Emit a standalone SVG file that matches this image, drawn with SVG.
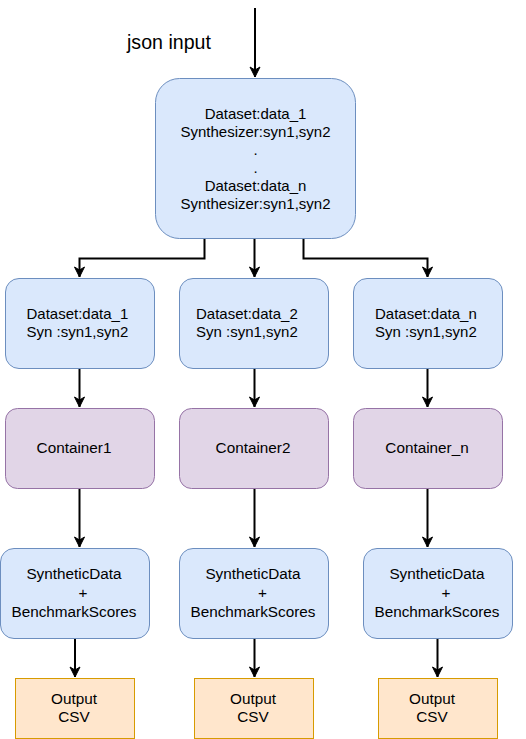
<svg xmlns="http://www.w3.org/2000/svg" width="526" height="739" viewBox="0 0 526 739">
<defs>
<style>
text{font-family:"Liberation Sans",Arial,Helvetica,sans-serif;font-size:15px;fill:#000}
.blue{fill:#dae8fc;stroke:#6c8ebf;stroke-width:1}
.purple{fill:#e1d5e7;stroke:#9673a6;stroke-width:1}
.orange{fill:#ffe6cc;stroke:#d79b00;stroke-width:1}
.edge{fill:none;stroke:#000;stroke-width:2;marker-end:url(#arr)}
.m{text-anchor:middle}
.big{font-size:15.3px}
</style>
<marker id="arr" markerUnits="userSpaceOnUse" markerWidth="12" markerHeight="12" refX="11" refY="6" orient="auto">
<path d="M1,1 L11,6 L1,11 L4,6 z" fill="#000" stroke="#000" stroke-width="1"/>
</marker>
</defs>
<rect width="526" height="739" fill="#fff"/>
<g id="label-json">
<text x="127" y="49" style="font-size:19.6px">json input</text>
</g>
<g id="edges">
<path class="edge" d="M255,8 V77"/>
<path class="edge" d="M204.5,238 V258.5 H79.5 V277"/>
<path class="edge" d="M254.5,238 V277"/>
<path class="edge" d="M303.5,238 V258.5 H427.5 V277"/>
<path class="edge" d="M79.5,368 V407"/>
<path class="edge" d="M254.5,368 V407"/>
<path class="edge" d="M427.5,368 V407"/>
<path class="edge" d="M79.5,488 V547"/>
<path class="edge" d="M254.5,488 V547"/>
<path class="edge" d="M427.5,488 V547"/>
<path class="edge" d="M75,638 V677"/>
<path class="edge" d="M254.5,638 V677"/>
<path class="edge" d="M437.5,638 V677"/>
</g>
<g id="node-input">
<rect class="blue" x="155.5" y="78.5" width="200" height="160" rx="24" ry="24"/>
<text class="m" x="255.5" y="119">Dataset:data_1</text>
<text class="m" x="255.5" y="137">Synthesizer:syn1,syn2</text>
<text class="m" x="255.5" y="155">.</text>
<text class="m" x="255.5" y="173">.</text>
<text class="m" x="255.5" y="191">Dataset:data_n</text>
<text class="m" x="255.5" y="209">Synthesizer:syn1,syn2</text>
</g>
<g id="node-ds1">
<rect class="blue" x="5.5" y="278.5" width="149" height="90" rx="13.5" ry="13.5"/>
<text x="26.5" y="318.5">Dataset:data_1</text>
<text x="26.5" y="337">Syn :syn1,syn2</text>
</g>
<g id="node-ds2">
<rect class="blue" x="179.5" y="278.5" width="149" height="90" rx="13.5" ry="13.5"/>
<text x="196" y="318.5">Dataset:data_2</text>
<text x="196" y="337">Syn :syn1,syn2</text>
</g>
<g id="node-dsn">
<rect class="blue" x="353.5" y="278.5" width="149" height="90" rx="13.5" ry="13.5"/>
<text x="375" y="318.5">Dataset:data_n</text>
<text x="375" y="337">Syn :syn1,syn2</text>
</g>
<g id="node-c1">
<rect class="purple" x="5.5" y="408.5" width="149" height="80" rx="12" ry="12"/>
<text class="m big" x="74" y="452.5">Container1</text>
</g>
<g id="node-c2">
<rect class="purple" x="179.5" y="408.5" width="149" height="80" rx="12" ry="12"/>
<text class="m big" x="253" y="452.5">Container2</text>
</g>
<g id="node-cn">
<rect class="purple" x="353.5" y="408.5" width="149" height="80" rx="12" ry="12"/>
<text class="m big" x="427" y="452.5">Container_n</text>
</g>
<g id="node-s1">
<rect class="blue" x="0.5" y="548.5" width="149" height="90" rx="13.5" ry="13.5"/>
<text class="m big" x="74" y="578.5">SyntheticData</text>
<text class="m big" x="83" y="598">+</text>
<text class="m big" x="74" y="617">BenchmarkScores</text>
</g>
<g id="node-s2">
<rect class="blue" x="179.5" y="548.5" width="149" height="90" rx="13.5" ry="13.5"/>
<text class="m big" x="253" y="578.5">SyntheticData</text>
<text class="m big" x="262.5" y="598">+</text>
<text class="m big" x="253" y="617">BenchmarkScores</text>
</g>
<g id="node-sn">
<rect class="blue" x="363.5" y="548.5" width="149" height="90" rx="13.5" ry="13.5"/>
<text class="m big" x="437" y="578.5">SyntheticData</text>
<text class="m big" x="446" y="598">+</text>
<text class="m big" x="437" y="617">BenchmarkScores</text>
</g>
<g id="node-o1">
<rect class="orange" x="15.5" y="678.5" width="119" height="60"/>
<text class="m big" x="74" y="703.5">Output</text>
<text class="m big" x="74" y="722">CSV</text>
</g>
<g id="node-o2">
<rect class="orange" x="194.5" y="678.5" width="119" height="60"/>
<text class="m big" x="253" y="703.5">Output</text>
<text class="m big" x="253" y="722">CSV</text>
</g>
<g id="node-on">
<rect class="orange" x="378.5" y="678.5" width="119" height="60"/>
<text class="m big" x="432" y="703.5">Output</text>
<text class="m big" x="432" y="722">CSV</text>
</g>
</svg>
